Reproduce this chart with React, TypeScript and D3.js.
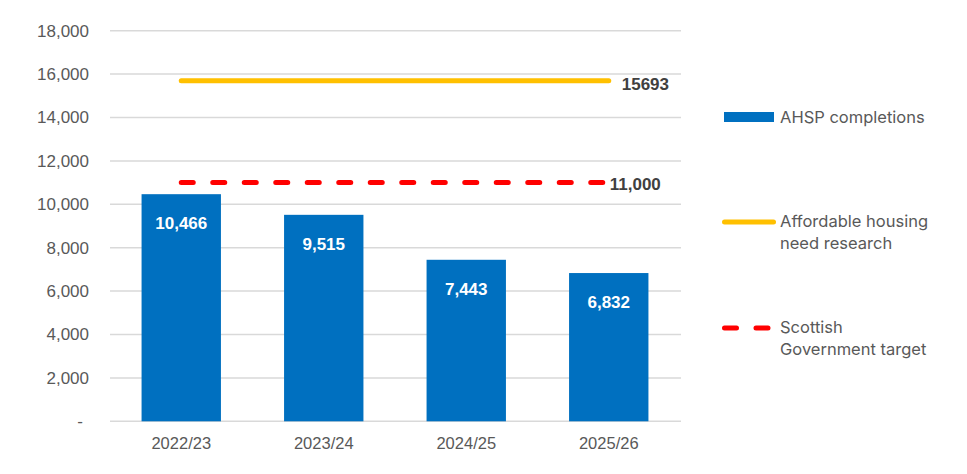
import * as d3 from 'd3';

// Chart data
const years = ['2022/23', '2023/24', '2024/25', '2025/26'];
const completions = [10466, 9515, 7443, 6832];
const needResearch = [15693, 15693, 15693, 15693];
const govTarget = [11000, 11000, 11000, 11000];
const yTicks = [0, 2000, 4000, 6000, 8000, 10000, 12000, 14000, 16000, 18000];

const W = 967;
const H = 474;
const BLUE = '#0070C0';
const YELLOW = '#FFC000';
const RED = '#FF0000';
const GREY = '#595959';
const AXIS_FONT = '"Liberation Sans", Arial, sans-serif';
const LEGEND_FONT = 'Inter, "Noto Sans", sans-serif';

const App = () => {
  const x = d3.scaleBand<string>()
    .domain(years)
    .range([110, 680])
    .paddingInner(0.443)
    .paddingOuter(0.2215);

  const y = d3.scaleLinear()
    .domain([0, 18000])
    .range([421.3, 30.7]);

  const cx = (d: string) => (x(d) || 0) + x.bandwidth() / 2;

  const line = d3.line<number>()
    .x((_, i) => cx(years[i]))
    .y(d => y(d));

  const fmt = d3.format(',');
  const last = years.length - 1;

  return (
    <svg
      width={W}
      height={H}
      style={{ position: 'absolute', left: 0, top: 0, background: '#fff' }}
    >
      {/* Gridlines */}
      {yTicks.map(t => (
        <line
          key={t}
          x1={110}
          x2={681}
          y1={y(t)}
          y2={y(t)}
          stroke="#d9d9d9"
          strokeWidth={1.5}
        />
      ))}

      {/* Y axis labels */}
      {yTicks.map(t => (
        <text
          key={'l' + t}
          x={t === 0 ? 83 : 89}
          y={y(t)}
          dy="0.35em"
          textAnchor="end"
          fontFamily={AXIS_FONT}
          fontSize={17}
          fill={GREY}
        >
          {t === 0 ? '-' : fmt(t)}
        </text>
      ))}

      {/* Bars */}
      {years.map((d, i) => (
        <rect
          key={d}
          x={x(d)}
          y={y(completions[i])}
          width={x.bandwidth()}
          height={y(0) - y(completions[i])}
          fill={BLUE}
        />
      ))}

      {/* Bar value labels */}
      {years.map((d, i) => (
        <text
          key={'v' + d}
          x={cx(d)}
          y={y(completions[i]) + 29}
          dy="0.35em"
          textAnchor="middle"
          fontFamily={AXIS_FONT}
          fontSize={17}
          fontWeight="bold"
          fill="#fff"
        >
          {fmt(completions[i])}
        </text>
      ))}

      {/* Category labels */}
      {years.map(d => (
        <text
          key={'c' + d}
          x={cx(d)}
          y={443}
          dy="0.35em"
          textAnchor="middle"
          fontFamily={AXIS_FONT}
          fontSize={16.5}
          fill={GREY}
        >
          {d}
        </text>
      ))}

      {/* Affordable housing need line */}
      <path
        d={line(needResearch) || ''}
        fill="none"
        stroke={YELLOW}
        strokeWidth={5}
        strokeLinecap="round"
      />
      <text
        x={cx(years[last]) + 13}
        y={y(needResearch[last]) + 3}
        dy="0.35em"
        fontFamily={AXIS_FONT}
        fontSize={17}
        fontWeight="bold"
        fill="#404040"
      >
        {needResearch[last]}
      </text>

      {/* Government target line */}
      <path
        d={line(govTarget) || ''}
        fill="none"
        stroke={RED}
        strokeWidth={5}
        strokeLinecap="round"
        strokeDasharray="12 19.5"
      />
      <text
        x={cx(years[last]) + 1}
        y={y(govTarget[last]) + 1}
        dy="0.35em"
        fontFamily={AXIS_FONT}
        fontSize={17}
        fontWeight="bold"
        fill="#404040"
      >
        {fmt(govTarget[last])}
      </text>

      {/* Legend */}
      <g fontFamily={LEGEND_FONT} fontSize={16.5} fill={GREY}>
        <rect x={724} y={112} width={50} height={10} fill={BLUE} />
        <text x={780} y={117} dy="0.35em">AHSP completions</text>

        <line x1={724.5} x2={773.5} y1={222} y2={222} stroke={YELLOW} strokeWidth={5} strokeLinecap="round" />
        <text x={780} y={221.7} dy="0.35em">Affordable housing</text>
        <text x={780} y={243.3} dy="0.35em">need research</text>

        <line x1={724.5} x2={773.5} y1={328} y2={328} stroke={RED} strokeWidth={5} strokeLinecap="round" strokeDasharray="12 19.5" />
        <text x={780} y={327.7} dy="0.35em">Scottish</text>
        <text x={780} y={349.3} dy="0.35em">Government target</text>
      </g>
    </svg>
  );
};

export default App;
